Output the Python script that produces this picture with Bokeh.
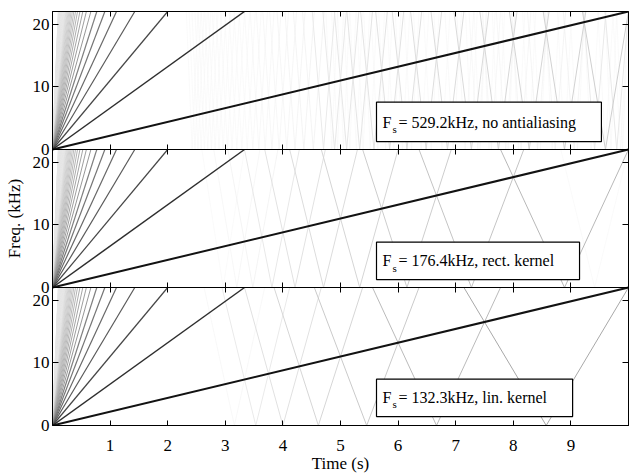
import math
from bokeh.plotting import figure
from bokeh.models import (Range1d, LinearAxis, FixedTicker, CustomJSTickFormatter,
                          BoxAnnotation, Label, ColumnDataSource)
from bokeh.embed import file_html
from bokeh.resources import INLINE

# ---------------- data ----------------
sweep_duration_s = 10.0            # length of the sweep
sweep_end_khz = 22.05              # fundamental sweeps 0 -> 22.05 kHz
display_max_khz = 22.05            # shown frequency band
harmonic_orders = list(range(1, 100, 2))   # odd harmonics of the oscillator
sample_rates_khz = [529.2, 176.4, 132.3]
kernel_orders = [0, 1, 2]          # none, rect (sinc), linear (sinc^2)
alias_attenuation_db = [16, 10, 1]
alias_cutoff = [1.05, 0.97, 0.97]  # aliases fainter than this are not visible
rate_labels = ["529.2kHz", "176.4kHz", "132.3kHz"]
method_labels = ["no antialiasing", "rect. kernel", "lin. kernel"]
x_ticks = [1, 2, 3, 4, 5, 6, 7, 8, 9]
y_ticks = [0, 10, 20]

F = display_max_khz
FONT = "Liberation Serif"


def to_hex(g):
    v = int(round(max(0.0, min(1.0, g)) * 255))
    return "#%02x%02x%02x" % (v, v, v)


def direct_gray(k):
    x = min(1.0, 20 * math.log10(k) / 36.0)
    return min(0.9, 0.07 + 0.93 * x ** 1.6)


def alias_gray(k, m, i):
    n = kernel_orders[i]
    db = (-20 * math.log10(k) * (1 + 0.5 * n) - alias_attenuation_db[i]
          - 20 * n * math.log10(m))
    return 0.07 + 0.93 * (-db / 55.0)


def harmonic_segments(k, fs):
    slope = k * sweep_end_khz / sweep_duration_s
    segs = [([0.0, F / slope], [0.0, F], 0)]
    m = 1
    while (m * fs - F) / slope < sweep_duration_s:
        c = m * fs
        t0, tm, t1 = (c - F) / slope, c / slope, (c + F) / slope
        segs.append(([t0, tm], [F, 0.0], m))
        segs.append(([tm, t1], [0.0, F], m))
        m += 1
    return segs


n_panels = len(sample_rates_khz)
p = figure(width=630, height=475,
           x_range=Range1d(0, sweep_duration_s),
           y_range=Range1d(0, n_panels * F),
           x_axis_type=None, y_axis_type=None,
           output_backend="svg", toolbar_location=None,
           min_border_left=52, min_border_right=2,
           min_border_top=11, min_border_bottom=44)
p.outline_line_color = "black"
p.outline_line_width = 1
p.background_fill_color = "white"
p.border_fill_color = "white"

range_names = []
for i in range(n_panels):
    name = "panel%d" % i
    offset = (n_panels - 1 - i) * F
    p.extra_y_ranges[name] = Range1d(-offset, n_panels * F - offset)
    range_names.append(name)

# ---------------- harmonic lines ----------------
for i, fs in enumerate(sample_rates_khz):
    rows = []
    for k in harmonic_orders:
        for xs, ys, m in harmonic_segments(k, fs):
            if m == 0:
                g = direct_gray(k)
                w = 2.0 if k == 1 else (1.5 if k == 3 else (1.2 if k < 15 else 0.9))
            else:
                g_raw = alias_gray(k, m, i)
                if g_raw > alias_cutoff[i]:
                    continue
                g = min(g_raw, 0.965)
                w = 1.0 if g_raw <= 0.92 else 0.6
            rows.append((g, xs, ys, w))
    rows.sort(key=lambda r: r[0], reverse=True)
    src = ColumnDataSource(dict(xs=[r[1] for r in rows], ys=[r[2] for r in rows],
                                color=[to_hex(r[0]) for r in rows],
                                width=[r[3] for r in rows]))
    p.multi_line(xs="xs", ys="ys", line_color="color", line_width="width",
                 source=src, y_range_name=range_names[i])

# ---------------- axes ----------------
blank = CustomJSTickFormatter(code='return "";')


def style_axis(ax, labels=True):
    ax.axis_line_color = "black"
    ax.major_tick_line_color = "black"
    ax.minor_tick_line_color = None
    ax.major_tick_out = 0
    ax.major_label_text_font = FONT
    ax.major_label_text_font_size = "17px" if labels else "1px"
    ax.major_label_text_color = "black"
    ax.axis_label_text_font = FONT
    ax.axis_label_text_font_style = "normal"
    ax.axis_label_text_font_size = "17px"
    ax.axis_label_text_color = "black"
    if not labels:
        ax.major_label_standoff = 0
        ax.formatter = blank


xt = FixedTicker(ticks=x_ticks)
xb = LinearAxis(ticker=xt, axis_label="Time (s)")
style_axis(xb)
xb.major_tick_in = 5
xb.major_label_standoff = 14
xb.axis_label_standoff = 0
p.add_layout(xb, "below")

xa = LinearAxis(ticker=xt)
style_axis(xa, labels=False)
xa.major_tick_in = 5
p.add_layout(xa, "above")

for j in range(1, n_panels):
    xm = LinearAxis(ticker=xt, fixed_location=j * F)
    style_axis(xm, labels=False)
    xm.major_tick_in = 5
    xm.major_tick_out = 5
    p.add_layout(xm, "below")

yt = FixedTicker(ticks=[j * F + v for j in range(n_panels) for v in y_ticks])
yfmt = CustomJSTickFormatter(args=dict(F=F), code="""
    const r = ((tick % F) + F) % F;
    if (Math.abs(r - F) < 1e-6) { return "0"; }
    return String(Math.round(r));
""")
yl = LinearAxis(ticker=yt, formatter=yfmt, axis_label="Freq. (kHz)")
style_axis(yl)
yl.major_tick_in = 6
yl.major_label_standoff = 3
yl.axis_label_standoff = 6
p.add_layout(yl, "left")

yr = LinearAxis(ticker=yt)
style_axis(yr, labels=False)
yr.major_tick_in = 6
p.add_layout(yr, "right")

# ---------------- legend boxes ----------------
box_left = [5.625, 5.625, 5.625]
box_right = [9.53, 9.15, 9.03]
box_bottom = [1.26, 1.26, 1.42]
box_top = [7.56, 7.25, 7.40]
baseline_px = [20, 18.5, 18]
for i in range(n_panels):
    rn = range_names[i]
    p.add_layout(BoxAnnotation(left=box_left[i], right=box_right[i],
                               bottom=box_bottom[i], top=box_top[i],
                               y_range_name=rn, fill_color="white", fill_alpha=1.0,
                               line_color="black", line_width=1.2, line_alpha=1.0))
    common = dict(x=box_left[i], y=box_top[i], y_range_name=rn,
                  text_font=FONT, text_color="black", text_baseline="alphabetic")
    p.add_layout(Label(text="F", x_offset=6, y_offset=-baseline_px[i],
                       text_font_size="16px", **common))
    p.add_layout(Label(text="s", x_offset=16, y_offset=-baseline_px[i] - 7,
                       text_font_size="11px", **common))
    p.add_layout(Label(text="= %s, %s" % (rate_labels[i], method_labels[i]),
                       x_offset=22, y_offset=-baseline_px[i],
                       text_font_size="16px", **common))

open("out.html", "w").write(file_html(p, INLINE))
